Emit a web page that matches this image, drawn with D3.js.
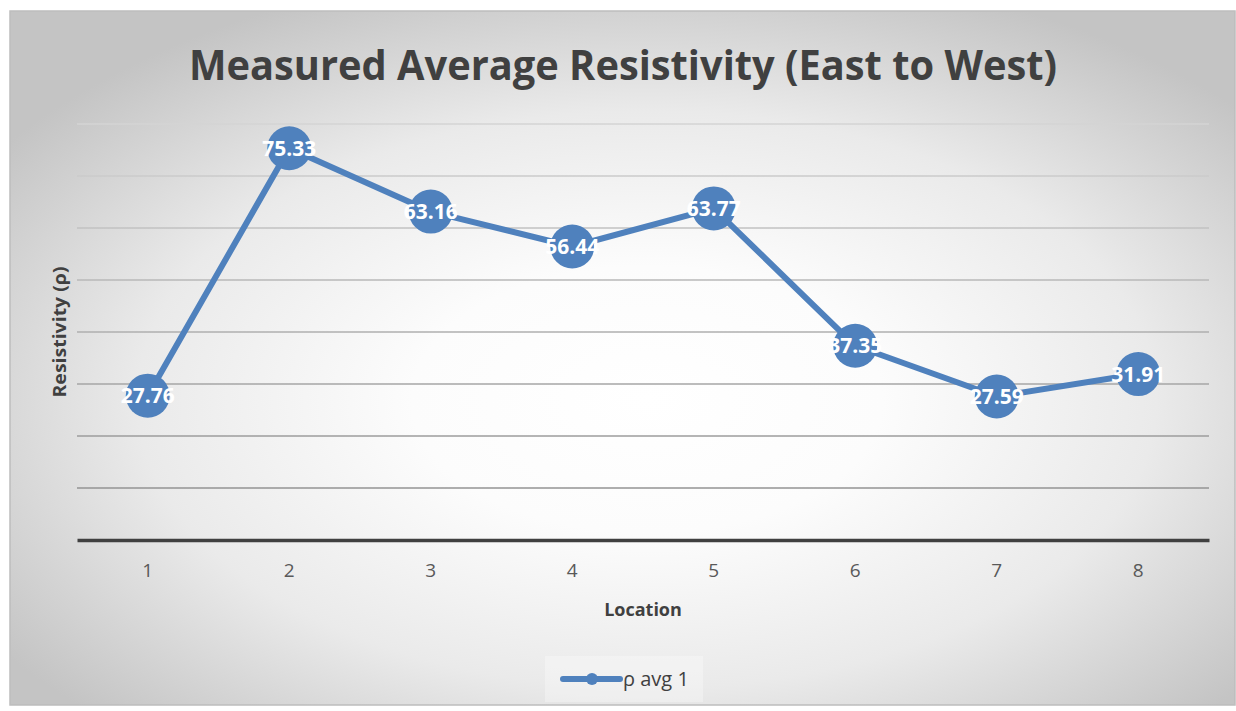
<!DOCTYPE html>
<html>
<head>
<meta charset="utf-8">
<script src="https://cdn.jsdelivr.net/npm/d3@7"></script>
<style>
  body { margin: 0; background: #ffffff; }
  text { font-family: "Open Sans", "Noto Sans", sans-serif; }
</style>
</head>
<body>
<div id="chart"></div>
<script>
// data
const locations = [1, 2, 3, 4, 5, 6, 7, 8];
const rhoAvg = [27.76, 75.33, 63.16, 56.44, 63.77, 37.35, 27.59, 31.91];
const yTicks = [0, 10, 20, 30, 40, 50, 60, 70, 80];
const seriesName = "ρ avg 1";

const width = 1236;
const height = 711;

const frame = { x: 10, y: 11, w: 1225, h: 694 };
const plot = { left: 77, right: 1209, top: 124, bottom: 540 };

const svg = d3.select("#chart").append("svg")
    .attr("width", width)
    .attr("height", height);

const defs = svg.append("defs");

// radial background, white middle, grey edges
const bg = defs.append("radialGradient")
    .attr("id", "bgGrad")
    .attr("cx", "52%").attr("cy", "56%").attr("r", "64%");
bg.append("stop").attr("offset", "0%").attr("stop-color", "#ffffff");
bg.append("stop").attr("offset", "30%").attr("stop-color", "#fcfcfc");
bg.append("stop").attr("offset", "65%").attr("stop-color", "#eaeaea");
bg.append("stop").attr("offset", "100%").attr("stop-color", "#c4c4c4");

// gridlines get darker toward the bottom
const gg = defs.append("linearGradient")
    .attr("id", "gridGrad")
    .attr("gradientUnits", "userSpaceOnUse")
    .attr("x1", 0).attr("x2", 0)
    .attr("y1", plot.top).attr("y2", plot.bottom);
gg.append("stop").attr("offset", "0%").attr("stop-color", "#d4d4d4");
gg.append("stop").attr("offset", "100%").attr("stop-color", "#8a8a8a");

svg.append("rect")
    .attr("x", frame.x).attr("y", frame.y)
    .attr("width", frame.w).attr("height", frame.h)
    .attr("fill", "url(#bgGrad)")
    .attr("stroke", "#bdbdbd")
    .attr("stroke-width", 1.5);

//////// scales ////////
const x = d3.scaleBand()
    .domain(locations)
    .range([plot.left, plot.right]);

const y = d3.scaleLinear()
    .domain([0, 80])
    .range([plot.bottom, plot.top]);

const cx = d => x(d) + x.bandwidth() / 2;

//////// gridlines ////////
svg.append("g")
    .selectAll("line")
    .data(yTicks.filter(t => t > 0))
    .join("line")
    .attr("x1", plot.left).attr("x2", plot.right)
    .attr("y1", d => y(d)).attr("y2", d => y(d))
    .attr("stroke", "url(#gridGrad)")
    .attr("stroke-width", 1.5);

// x axis
const xAxis = svg.append("g")
    .attr("transform", `translate(0,${plot.bottom})`)
    .call(d3.axisBottom(x).tickSize(0).tickPadding(24));
xAxis.select(".domain")
    .attr("stroke", "#404040")
    .attr("stroke-width", 3.5);
xAxis.selectAll("text")
    .attr("fill", "#595959")
    .style("font-size", "19px")
    .style("font-family", "'Open Sans', sans-serif");

//////// titles ////////
svg.append("text")
    .attr("x", 623).attr("y", 80)
    .attr("text-anchor", "middle")
    .attr("fill", "#404040")
    .attr("font-weight", 700)
    .attr("font-size", 41)
    .attr("textLength", 868)
    .attr("lengthAdjust", "spacingAndGlyphs")
    .text("Measured Average Resistivity (East to West)");

svg.append("text")
    .attr("transform", "translate(66,332) rotate(-90)")
    .attr("text-anchor", "middle")
    .attr("fill", "#404040")
    .attr("font-weight", 700)
    .attr("font-size", 17)
    .attr("textLength", 131)
    .attr("lengthAdjust", "spacingAndGlyphs")
    .text("Resistivity (ρ)");

svg.append("text")
    .attr("x", (plot.left + plot.right) / 2).attr("y", 616)
    .attr("text-anchor", "middle")
    .attr("fill", "#404040")
    .attr("font-weight", 700)
    .attr("font-size", 18)
    .text("Location");

//////// series ////////
const pts = locations.map((l, i) => ({ loc: l, v: rhoAvg[i] }));
const blue = "#4f81bd";

svg.append("path")
    .datum(pts)
    .attr("fill", "none")
    .attr("stroke", blue)
    .attr("stroke-width", 6)
    .attr("stroke-linejoin", "round")
    .attr("d", d3.line().x(d => cx(d.loc)).y(d => y(d.v)));

svg.append("g")
    .selectAll("circle")
    .data(pts)
    .join("circle")
    .attr("cx", d => cx(d.loc))
    .attr("cy", d => y(d.v))
    .attr("r", 22)
    .attr("fill", blue);

svg.append("g")
    .selectAll("text")
    .data(pts)
    .join("text")
    .attr("x", d => cx(d.loc))
    .attr("y", d => y(d.v))
    .attr("dy", "0.36em")
    .attr("text-anchor", "middle")
    .attr("fill", "#ffffff")
    .attr("font-weight", 700)
    .attr("font-size", 21)
    .attr("textLength", d => 54)
    .attr("lengthAdjust", "spacingAndGlyphs")
    .text(d => d.v.toFixed(2));

//////// legend ////////
const legend = svg.append("g").attr("transform", "translate(545,656)");
legend.append("rect")
    .attr("width", 158).attr("height", 46)
    .attr("fill", "#ffffff").attr("fill-opacity", 0.3);
legend.append("line")
    .attr("x1", 18).attr("x2", 75)
    .attr("y1", 23).attr("y2", 23)
    .attr("stroke", blue)
    .attr("stroke-width", 6)
    .attr("stroke-linecap", "round");
legend.append("circle")
    .attr("cx", 47).attr("cy", 23).attr("r", 6)
    .attr("fill", blue);
legend.append("text")
    .attr("x", 78).attr("y", 23)
    .attr("dy", "0.36em")
    .attr("fill", "#404040")
    .attr("font-size", 20)
    .text(seriesName);
</script>
</body>
</html>
